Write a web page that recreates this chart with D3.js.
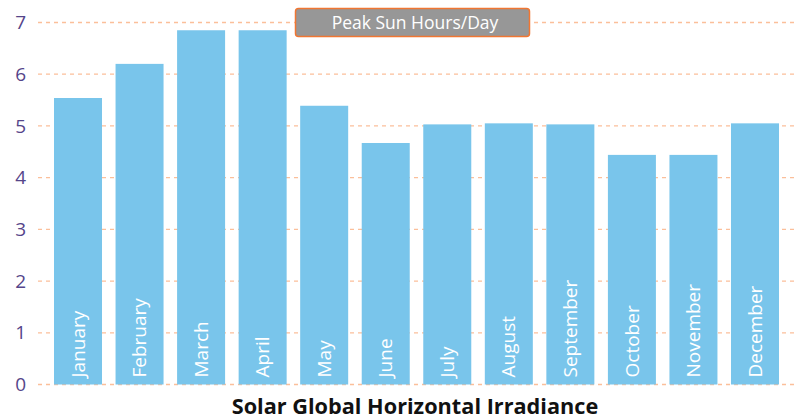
<!DOCTYPE html>
<html>
<head>
<meta charset="utf-8">
<script src="https://cdn.jsdelivr.net/npm/d3@7"></script>
<style>
  body { margin: 0; background: #fff; }
  svg { display: block; font-family: "Open Sans", Lato, sans-serif; }
</style>
</head>
<body>
<div id="chart"></div>
<script>
// Solar GHI - peak sun hours per day by month
const months = ['January', 'February', 'March', 'April', 'May', 'June',
    'July', 'August', 'September', 'October', 'November', 'December'];
const sunHours = [5.54, 6.20, 6.85, 6.85, 5.39, 4.67, 5.03, 5.05, 5.03, 4.44, 4.44, 5.05];
const yTicks = [0, 1, 2, 3, 4, 5, 6, 7];
const seriesName = 'Peak Sun Hours/Day';
const chartTitle = 'Solar Global Horizontal Irradiance';

const width = 798, height = 419;
const margin = { top: 22.5, right: 0, bottom: 34.5, left: 38 };

const svg = d3.select('#chart').append('svg')
    .attr('width', width)
    .attr('height', height);

const x = d3.scaleBand()
    .domain(months)
    .range([margin.left, 795])
    .paddingInner(0.22)
    .paddingOuter(0.26);

const y = d3.scaleLinear()
    .domain([0, 7])
    .range([height - margin.bottom, margin.top]);

// dashed grid lines
svg.append('g')
    .selectAll('line')
    .data(yTicks)
    .join('line')
    .attr('x1', margin.left)
    .attr('x2', width)
    .attr('y1', d => y(d))
    .attr('y2', d => y(d))
    .attr('stroke', '#fbbf9a')
    .attr('stroke-width', 1.3)
    .attr('stroke-dasharray', '4,4');

// y axis labels
const yAxis = svg.append('g')
    .attr('transform', `translate(26,0)`)
    .call(d3.axisLeft(y).tickValues(yTicks).tickFormat(d3.format('d')).tickSize(0).tickPadding(0));
yAxis.select('.domain').remove();
yAxis.selectAll('text')
    .attr('fill', '#55458a')
    .attr('font-size', '19px')
    .attr('font-family', '"Open Sans", sans-serif');

// bars
svg.append('g')
    .selectAll('rect')
    .data(months)
    .join('rect')
    .attr('x', d => x(d))
    .attr('width', x.bandwidth())
    .attr('y', (d, i) => y(sunHours[i]))
    .attr('height', (d, i) => y(0) - y(sunHours[i]))
    .attr('fill', '#79c5eb');

// month labels inside bars, rotated
svg.append('g')
    .selectAll('text')
    .data(months)
    .join('text')
    .attr('transform', d => `translate(${x(d) + x.bandwidth() / 2},${y(0) - 7}) rotate(-90)`)
    .attr('dy', '0.35em')
    .attr('text-anchor', 'start')
    .attr('fill', '#fff')
    .attr('font-size', '19px')
    .text(d => d);

// series label box
const legend = svg.append('g');
legend.append('rect')
    .attr('x', 295.5)
    .attr('y', 8.5)
    .attr('width', 234)
    .attr('height', 28)
    .attr('rx', 3)
    .attr('fill', '#979797')
    .attr('stroke', '#f07632')
    .attr('stroke-width', 1.5);
legend.append('text')
    .attr('x', 415)
    .attr('y', 23)
    .attr('dy', '0.35em')
    .attr('text-anchor', 'middle')
    .attr('fill', '#fff')
    .attr('font-size', '17.5px')
    .text(seriesName);

// chart title
svg.append('text')
    .attr('x', 415)
    .attr('y', 414)
    .attr('text-anchor', 'middle')
    .attr('fill', '#111')
    .attr('font-size', '21.7px')
    .attr('font-weight', 700)
    .text(chartTitle);
</script>
</body>
</html>
